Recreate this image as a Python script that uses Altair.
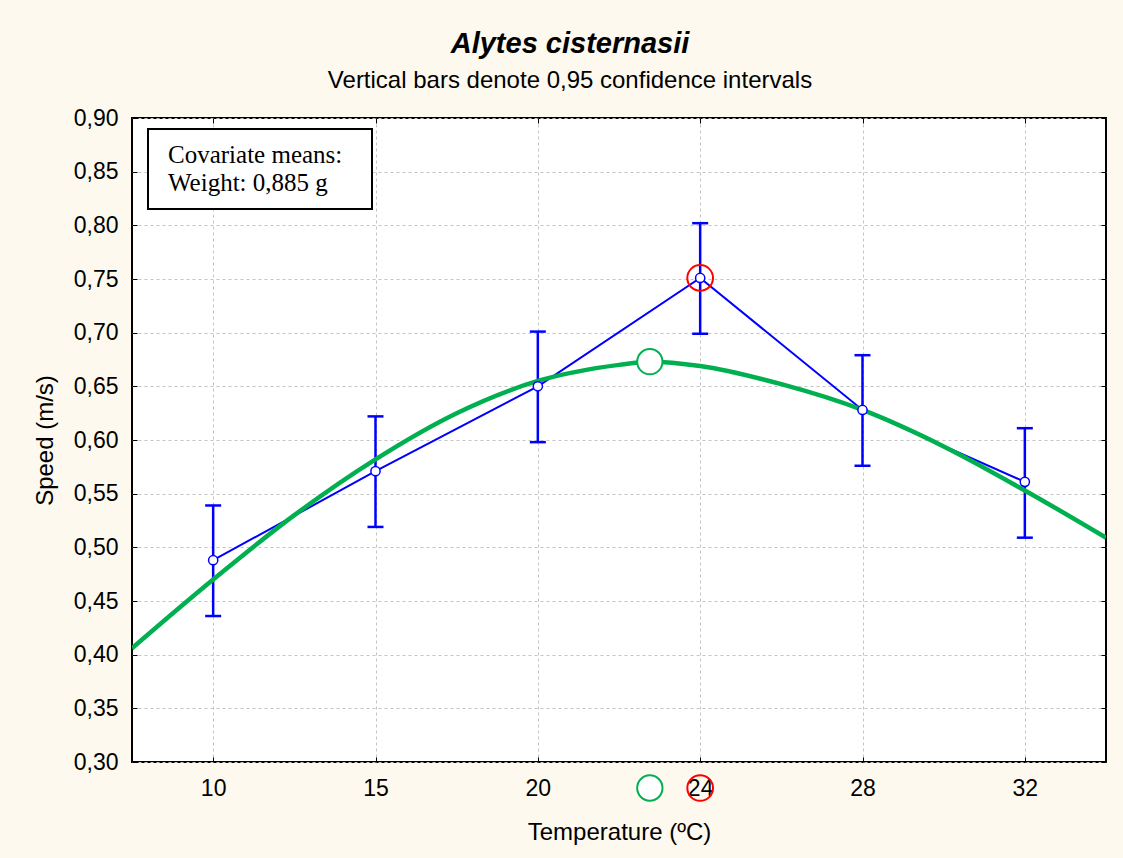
import altair as alt
import pandas as pd

# Temperature treatments (evenly spaced categories on the x axis)
temperature_labels = ["10", "15", "20", "24", "28", "32"]
temperature_pos = [0, 1, 2, 3, 4, 5]

# Adjusted mean speed (m/s) and 95% confidence limits
speed_mean = [0.488, 0.571, 0.650, 0.751, 0.628, 0.561]
speed_low = [0.436, 0.519, 0.598, 0.699, 0.576, 0.509]
speed_high = [0.539, 0.622, 0.701, 0.802, 0.679, 0.611]

# Fitted performance curve, sampled along the temperature axis
fit_pos = [-0.5, 0.0, 0.5, 1.0, 1.5, 2.0, 2.5, 2.69, 3.0, 3.5, 4.0, 4.5, 5.0, 5.5]
fit_speed = [0.406, 0.470, 0.530, 0.582, 0.625, 0.655, 0.670, 0.673, 0.669,
             0.652, 0.628, 0.594, 0.553, 0.509]

# Optimum of the fitted curve and the highest observed mean
fit_peak_pos = [2.69]
fit_peak_speed = [0.673]
obs_peak_pos = [3]
obs_peak_speed = [0.751]

y_ticks = [0.30, 0.35, 0.40, 0.45, 0.50, 0.55, 0.60, 0.65, 0.70, 0.75, 0.80, 0.85, 0.90]

legend_lines = ["Covariate means:", "Weight: 0,885 g"]
title_text = "Alytes cisternasii"
subtitle_text = "Vertical bars denote 0,95 confidence intervals"

W, H = 974, 644
SANS = "Liberation Sans"
SERIF = "Liberation Serif"
BLUE = "#0000FF"
GREEN = "#00B050"
RED = "#FF0000"

obs = pd.DataFrame({"pos": temperature_pos, "speed": speed_mean,
                    "low": speed_low, "high": speed_high})
fit = pd.DataFrame({"pos": fit_pos, "speed": fit_speed})
fit_peak = pd.DataFrame({"pos": fit_peak_pos, "speed": fit_peak_speed})
obs_peak = pd.DataFrame({"pos": obs_peak_pos, "speed": obs_peak_speed})
one = pd.DataFrame({"k": [0]})

XS = alt.Scale(domain=[-0.5, 5.5], nice=False, zero=False)
YS = alt.Scale(domain=[0.30, 0.90], nice=False, zero=False)

label_expr = "[" + ",".join(f"'{t}'" for t in temperature_labels) + "][datum.value]"
grid_style = dict(grid=True, gridDash=[3, 3], gridColor="#c4c4c4", gridWidth=1)

x_bottom = alt.Axis(
    orient="bottom", values=temperature_pos, labelExpr=label_expr,
    title="Temperature (ºC)", offset=-5, tickSize=5, tickColor="black",
    domain=False, labelFlush=False, labelOverlap=False,
    labelFont=SANS, labelFontSize=23, labelColor="black",
    labelBaseline="middle", labelPadding=26,
    titleFont=SANS, titleFontSize=24, titleFontWeight="normal", titleColor="black",
    titleBaseline="middle", titleY=75, **grid_style,
)
y_left = alt.Axis(
    orient="left", values=y_ticks,
    labelExpr="replace(format(datum.value, '.2f'), '.', ',')",
    title="Speed (m/s)", offset=-5, tickSize=5, tickColor="black",
    domain=False, labelFlush=False, labelOverlap=False,
    labelFont=SANS, labelFontSize=23, labelColor="black", labelPadding=14,
    titleFont=SANS, titleFontSize=24, titleFontWeight="normal", titleColor="black",
    titleX=-92, titleBaseline="middle", titleAngle=-90, **grid_style,
)
x_top = alt.Axis(orient="top", values=temperature_pos, offset=-5, tickSize=5,
                 tickColor="black", labels=False, domain=False, grid=False, title=None)
y_right = alt.Axis(orient="right", values=y_ticks, offset=-5, tickSize=5,
                   tickColor="black", labels=False, domain=False, grid=False, title=None)

# Axes, grid and frame ticks
axes = alt.Chart(obs).mark_point(opacity=0).encode(
    x=alt.X("pos:Q", scale=XS, axis=x_bottom),
    y=alt.Y("speed:Q", scale=YS, axis=y_left),
)
frame_ticks = alt.Chart(obs).mark_point(opacity=0).encode(
    x=alt.X("pos:Q", scale=XS, axis=x_top),
    y=alt.Y("speed:Q", scale=YS, axis=y_right),
)

# Legend box with covariate means
box = alt.Chart(one).mark_rect(fill="white", stroke="black", strokeWidth=2).encode(
    x=alt.value(16), x2=alt.value(240), y=alt.value(11), y2=alt.value(91)
)
box_line1 = alt.Chart(one).mark_text(align="left", baseline="middle", font=SERIF,
                                     fontSize=25, color="black").encode(
    x=alt.value(36), y=alt.value(37), text=alt.value(legend_lines[0]))
box_line2 = alt.Chart(one).mark_text(align="left", baseline="middle", font=SERIF,
                                     fontSize=25, color="black").encode(
    x=alt.value(36), y=alt.value(65), text=alt.value(legend_lines[1]))

# Confidence intervals
bars = alt.Chart(obs).mark_rule(color=BLUE, strokeWidth=2.5).encode(
    x=alt.X("pos:Q", scale=XS, axis=None),
    y=alt.Y("low:Q", scale=YS, axis=None), y2="high:Q")
cap_low = alt.Chart(obs).mark_tick(color=BLUE, orient="horizontal", size=16,
                                   thickness=2.5, opacity=1).encode(
    x=alt.X("pos:Q", scale=XS, axis=None), y=alt.Y("low:Q", scale=YS, axis=None))
cap_high = alt.Chart(obs).mark_tick(color=BLUE, orient="horizontal", size=16,
                                    thickness=2.5, opacity=1).encode(
    x=alt.X("pos:Q", scale=XS, axis=None), y=alt.Y("high:Q", scale=YS, axis=None))

# Observed means
mean_line = alt.Chart(obs).mark_line(color=BLUE, strokeWidth=2).encode(
    x=alt.X("pos:Q", scale=XS, axis=None), y=alt.Y("speed:Q", scale=YS, axis=None))
mean_pts = alt.Chart(obs).mark_point(shape="circle", size=85, fill="white",
                                     stroke=BLUE, strokeWidth=1.5, opacity=1,
                                     fillOpacity=1).encode(
    x=alt.X("pos:Q", scale=XS, axis=None), y=alt.Y("speed:Q", scale=YS, axis=None))

# Fitted curve
fit_line = alt.Chart(fit).mark_line(color=GREEN, strokeWidth=4.5, interpolate="monotone",
                                    clip=True).encode(
    x=alt.X("pos:Q", scale=XS, axis=None), y=alt.Y("speed:Q", scale=YS, axis=None))

# Optimum markers in the plot
fit_peak_mark = alt.Chart(fit_peak).mark_point(shape="circle", size=640, fill="white",
                                               stroke=GREEN, strokeWidth=2, opacity=1,
                                               fillOpacity=1).encode(
    x=alt.X("pos:Q", scale=XS, axis=None), y=alt.Y("speed:Q", scale=YS, axis=None))
obs_peak_mark = alt.Chart(obs_peak).mark_point(shape="circle", size=660, filled=False,
                                               stroke=RED, strokeWidth=2, opacity=1).encode(
    x=alt.X("pos:Q", scale=XS, axis=None), y=alt.Y("speed:Q", scale=YS, axis=None))

# Optimum markers on the temperature axis
fit_peak_axis = alt.Chart(fit_peak).mark_point(shape="circle", size=640, fill="white",
                                               stroke=GREEN, strokeWidth=2, opacity=1,
                                               fillOpacity=1).encode(
    x=alt.X("pos:Q", scale=XS, axis=None), y=alt.value(H + 26))
obs_peak_axis = alt.Chart(obs_peak).mark_point(shape="circle", size=660, filled=False,
                                               stroke=RED, strokeWidth=2, opacity=1).encode(
    x=alt.X("pos:Q", scale=XS, axis=None), y=alt.value(H + 26))

# Titles
title = alt.Chart(one).mark_text(font=SANS, fontSize=29, fontWeight="bold",
                                 fontStyle="italic", color="black",
                                 baseline="middle", align="center").encode(
    x=alt.value(438), y=alt.value(-74), text=alt.value(title_text))
subtitle = alt.Chart(one).mark_text(font=SANS, fontSize=24, color="black",
                                    baseline="middle", align="center").encode(
    x=alt.value(438), y=alt.value(-37), text=alt.value(subtitle_text))

chart = alt.layer(
    axes, frame_ticks, box, box_line1, box_line2,
    bars, cap_low, cap_high, mean_line, fit_line, mean_pts,
    fit_peak_mark, obs_peak_mark, fit_peak_axis, obs_peak_axis,
    title, subtitle,
).resolve_scale(x="independent", y="independent").properties(
    width=W, height=H,
    autosize=alt.AutoSizeParams(type="none"),
    padding={"left": 132, "top": 118, "right": 17, "bottom": 96},
    background="#FDF9EE",
).configure_view(stroke="black", strokeWidth=2, fill="white")

chart.save("out.html", embed_options={"renderer": "svg", "actions": False})
